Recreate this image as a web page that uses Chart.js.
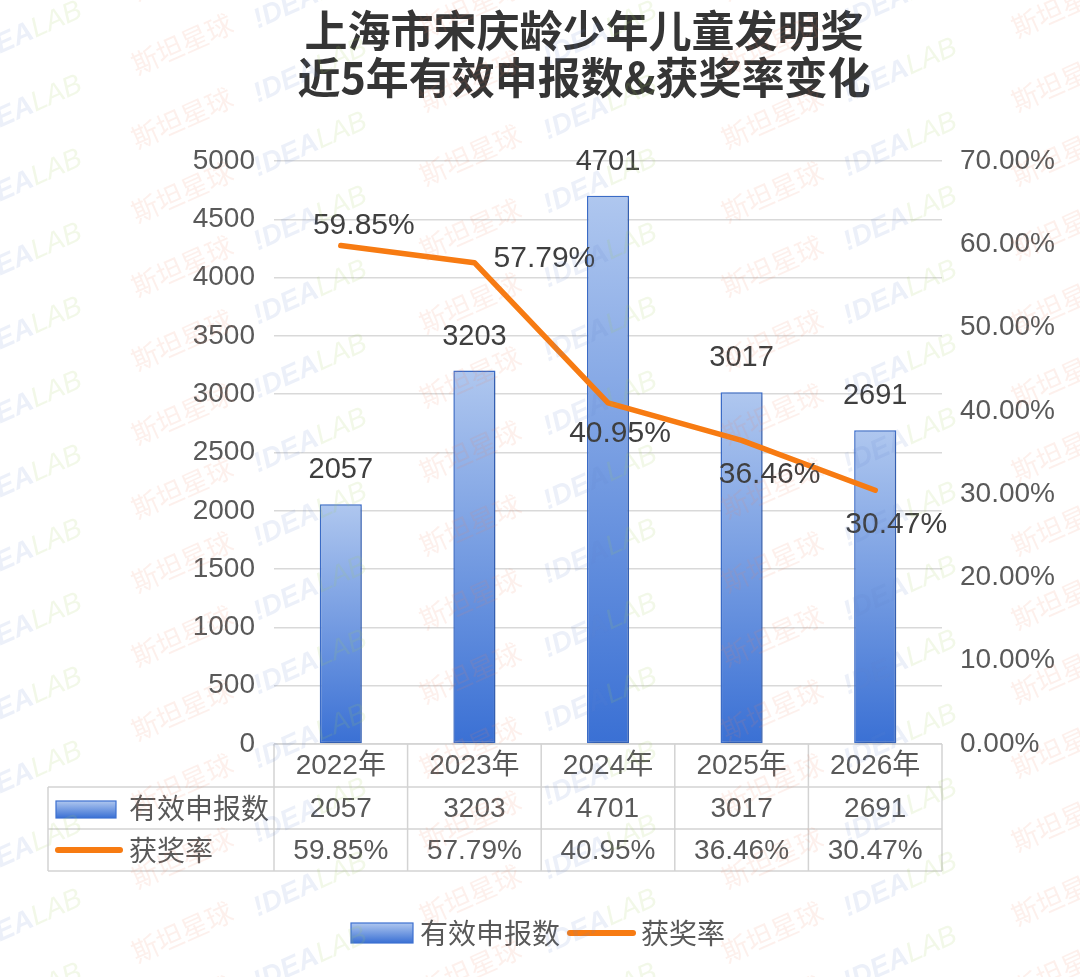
<!DOCTYPE html>
<html>
<head>
<meta charset="utf-8">
<script src="https://cdn.jsdelivr.net/npm/chart.js@4.4.1/dist/chart.umd.min.js"></script>
<style>
  html, body { margin: 0; padding: 0; background: #ffffff; }
  #wrap { width: 1080px; height: 977px; }
</style>
</head>
<body>
<div id="wrap"><canvas id="c" width="1080" height="977"></canvas></div>
<script>
// ---- data ----
const titleLines = ['上海市宋庆龄少年儿童发明奖', '近5年有效申报数&获奖率变化'];
const categories = ['2022年', '2023年', '2024年', '2025年', '2026年'];
const applications = [2057, 3203, 4701, 3017, 2691];
const awardRate = [59.85, 57.79, 40.95, 36.46, 30.47];
const seriesNames = ['有效申报数', '获奖率'];
const leftTicks = [0, 500, 1000, 1500, 2000, 2500, 3000, 3500, 4000, 4500, 5000];
const rightTicks = ['0.00%', '10.00%', '20.00%', '30.00%', '40.00%', '50.00%', '60.00%', '70.00%'];

// ---- styles ----
const FONT = '"Liberation Sans", "Noto Sans CJK SC", Arial, sans-serif';
const CJK = '"Noto Sans CJK SC", "Liberation Sans", sans-serif';
const ORANGE = '#f77b12';
const BAR_TOP = '#afc7ef';
const BAR_BOT = '#3a70d4';
const BAR_BORDER = '#3d70d0';
const TXT = '#595959';
const LBL = '#3f3f3f';
const GRID = '#d9d9d9';
const TABLE_LINE = '#d3d3d3';

function barGradient(ctx, top, bottom) {
  const g = ctx.createLinearGradient(0, top, 0, bottom);
  g.addColorStop(0, BAR_TOP);
  g.addColorStop(1, BAR_BOT);
  return g;
}

// line-label placement (offset of label centre from its point)
const rateLabelOffset = [[23, -20], [70, -4], [12, 31], [28, 34], [21, 35]];

const bgPlugin = {
  id: 'bg',
  beforeDraw(chart) {
    const c = chart.ctx;
    c.save();
    c.fillStyle = '#ffffff';
    c.fillRect(0, 0, chart.width, chart.height);
    c.restore();
  }
};

const shadowPlugin = {
  id: 'barShadow',
  beforeDatasetDraw(chart, args) {
    if (args.index !== 0) return;
    const c = chart.ctx;
    c.save();
    c.shadowColor = 'rgba(0,0,0,0.22)';
    c.shadowBlur = 6;
    c.shadowOffsetX = 2;
    c.shadowOffsetY = 2;
  },
  afterDatasetDraw(chart, args) {
    if (args.index !== 0) return;
    chart.ctx.restore();
  }
};

const titlePlugin = {
  id: 'titleDraw',
  afterDraw(chart) {
    const c = chart.ctx;
    c.save();
    c.fillStyle = '#353535';
    c.font = 'bold 43px ' + CJK;
    c.textAlign = 'center';
    c.textBaseline = 'middle';
    c.fillText(titleLines[0], 584, 31);
    c.fillText(titleLines[1], 584, 78);
    c.restore();
  }
};

const labelsPlugin = {
  id: 'valueLabels',
  afterDatasetsDraw(chart) {
    const c = chart.ctx;
    c.save();
    c.fillStyle = LBL;
    c.font = '29px ' + FONT;
    c.textAlign = 'center';
    c.textBaseline = 'alphabetic';
    const barMeta = chart.getDatasetMeta(0);
    barMeta.data.forEach((el, i) => {
      c.fillText(String(applications[i]), el.x, el.y - 26);
    });
    c.font = '30px ' + FONT;
    c.textBaseline = 'middle';
    const lineMeta = chart.getDatasetMeta(1);
    lineMeta.data.forEach((el, i) => {
      const o = rateLabelOffset[i];
      c.fillText(awardRate[i].toFixed(2) + '%', el.x + o[0], el.y + o[1]);
    });
    c.restore();
  }
};

const tablePlugin = {
  id: 'dataTable',
  afterDraw(chart) {
    const c = chart.ctx;
    const x = chart.scales.x;
    const area = chart.chartArea;
    const half = (x.getPixelForValue(1) - x.getPixelForValue(0)) / 2;
    const left = area.left, right = area.right;
    const y0 = area.bottom, y1 = y0 + 43, y2 = y1 + 42, y3 = y2 + 42;
    const outerLeft = 48;
    c.save();
    c.strokeStyle = TABLE_LINE;
    c.lineWidth = 1.5;
    c.beginPath();
    c.moveTo(left, y0); c.lineTo(right, y0);
    c.moveTo(outerLeft, y1); c.lineTo(right, y1);
    c.moveTo(outerLeft, y2); c.lineTo(right, y2);
    c.moveTo(outerLeft, y3); c.lineTo(right, y3);
    c.moveTo(outerLeft, y1); c.lineTo(outerLeft, y3);
    for (let i = 0; i <= categories.length; i++) {
      const px = i < categories.length ? x.getPixelForValue(i) - half : x.getPixelForValue(categories.length - 1) + half;
      c.moveTo(px, y0); c.lineTo(px, y3);
    }
    c.stroke();

    c.fillStyle = TXT;
    c.font = '28px ' + FONT;
    c.textAlign = 'center';
    c.textBaseline = 'middle';
    categories.forEach((cat, i) => {
      const px = x.getPixelForValue(i);
      c.fillText(cat, px, (y0 + y1) / 2 + 1);
      c.fillText(String(applications[i]), px, (y1 + y2) / 2 + 1);
      c.fillText(awardRate[i].toFixed(2) + '%', px, (y2 + y3) / 2 + 1);
    });

    c.fillStyle = barGradient(c, 801, 818);
    c.fillRect(56, 801, 60, 17);
    c.strokeStyle = BAR_BORDER;
    c.lineWidth = 1.2;
    c.strokeRect(56, 801, 60, 17);
    c.strokeStyle = ORANGE;
    c.lineWidth = 6;
    c.lineCap = 'round';
    c.beginPath();
    c.moveTo(58, (y2 + y3) / 2); c.lineTo(120, (y2 + y3) / 2);
    c.stroke();
    c.fillStyle = TXT;
    c.textAlign = 'left';
    c.font = '28px ' + CJK;
    c.fillText(seriesNames[0], 129, (y1 + y2) / 2);
    c.fillText(seriesNames[1], 129, (y2 + y3) / 2);
    c.restore();
  }
};

const legendPlugin = {
  id: 'bottomLegend',
  afterDraw(chart) {
    const c = chart.ctx;
    const ly = 933;
    c.save();
    c.fillStyle = barGradient(c, 923, 943);
    c.fillRect(351, 923, 62, 20);
    c.strokeStyle = BAR_BORDER;
    c.lineWidth = 1.2;
    c.strokeRect(351, 923, 62, 20);
    c.strokeStyle = ORANGE;
    c.lineWidth = 6;
    c.lineCap = 'round';
    c.beginPath();
    c.moveTo(570, ly); c.lineTo(633, ly);
    c.stroke();
    c.fillStyle = TXT;
    c.font = '28px ' + CJK;
    c.textAlign = 'left';
    c.textBaseline = 'middle';
    c.fillText(seriesNames[0], 420, ly);
    c.fillText(seriesNames[1], 641, ly);
    c.restore();
  }
};

const watermarkPlugin = {
  id: 'watermark',
  afterDraw(chart) {
    const c = chart.ctx;
    c.save();
    const cols = [
      { x: 25, kind: 'lab', off: 0 },
      { x: 182, kind: 'cn', off: 10 },
      { x: 310, kind: 'lab', off: 37 },
      { x: 470, kind: 'cn', off: 47 },
      { x: 600, kind: 'lab', off: 0 },
      { x: 772, kind: 'cn', off: 10 },
      { x: 900, kind: 'lab', off: 37 },
      { x: 1062, kind: 'cn', off: 47 }
    ];
    cols.forEach(col => {
      for (let y = -40; y < 1020; y += 74) {
        const yy = y + col.off;
        c.save();
        c.translate(col.x, yy);
        c.rotate(-0.42);
        c.textAlign = 'center';
        c.textBaseline = 'middle';
        if (col.kind === 'cn') {
          c.font = '27px ' + CJK;
          c.fillStyle = 'rgba(240,130,100,0.12)';
          c.fillText('斯坦星球', 0, 0);
        } else {
          c.font = 'italic bold 28px ' + FONT;
          c.fillStyle = 'rgba(100,130,205,0.12)';
          c.textAlign = 'right';
          c.fillText('!DEA', 8, 0);
          c.font = 'italic 28px ' + FONT;
          c.fillStyle = 'rgba(160,205,90,0.14)';
          c.textAlign = 'left';
          c.fillText('LAB', 8, 0);
        }
        c.restore();
      }
    });
    c.restore();
  }
};

new Chart(document.getElementById('c'), {
  type: 'bar',
  data: {
    labels: categories,
    datasets: [
      {
        type: 'bar',
        label: seriesNames[0],
        data: applications,
        yAxisID: 'y',
        order: 2,
        backgroundColor: (ctx) => {
          const chart = ctx.chart;
          if (!chart.chartArea || ctx.type !== 'data') return '#7ea2e2';
          const y = chart.scales.y;
          return barGradient(chart.ctx, y.getPixelForValue(ctx.raw), y.getPixelForValue(0));
        },
        borderColor: BAR_BORDER,
        borderWidth: 1.5,
        borderSkipped: false,
        categoryPercentage: 1.0,
        barPercentage: 0.315
      },
      {
        type: 'line',
        label: seriesNames[1],
        data: awardRate,
        yAxisID: 'y1',
        order: 1,
        borderColor: ORANGE,
        borderWidth: 5.5,
        borderCapStyle: 'round',
        borderJoinStyle: 'round',
        pointRadius: 0,
        pointHoverRadius: 0,
        tension: 0,
        fill: false
      }
    ]
  },
  options: {
    responsive: false,
    animation: false,
    devicePixelRatio: 1,
    layout: { padding: { top: 161, left: 0, right: 0, bottom: 0 } },
    plugins: {
      legend: { display: false },
      title: { display: false },
      tooltip: { enabled: false }
    },
    scales: {
      x: {
        type: 'category',
        offset: true,
        grid: { display: false },
        border: { display: false },
        ticks: { display: false },
        afterFit(scale) { scale.height = 233; }
      },
      y: {
        position: 'left',
        min: 0,
        max: 5000,
        afterBuildTicks(scale) { scale.ticks = leftTicks.map(v => ({ value: v })); },
        ticks: {
          color: TXT,
          font: { size: 28, family: FONT },
          padding: 19,
          callback: (v) => String(v)
        },
        grid: { color: GRID, lineWidth: 1.5, drawTicks: false },
        border: { display: false },
        afterFit(scale) { scale.width = 274; }
      },
      y1: {
        position: 'right',
        min: 0,
        max: 70,
        afterBuildTicks(scale) { scale.ticks = rightTicks.map((t, i) => ({ value: i * 10 })); },
        ticks: {
          color: TXT,
          font: { size: 28, family: FONT },
          padding: 18,
          callback: (v, i) => rightTicks[i]
        },
        grid: { drawOnChartArea: false, drawTicks: false },
        border: { display: false },
        afterFit(scale) { scale.width = 138; }
      }
    }
  },
  plugins: [bgPlugin, shadowPlugin, labelsPlugin, tablePlugin, legendPlugin, titlePlugin, watermarkPlugin]
});
</script>
</body>
</html>
